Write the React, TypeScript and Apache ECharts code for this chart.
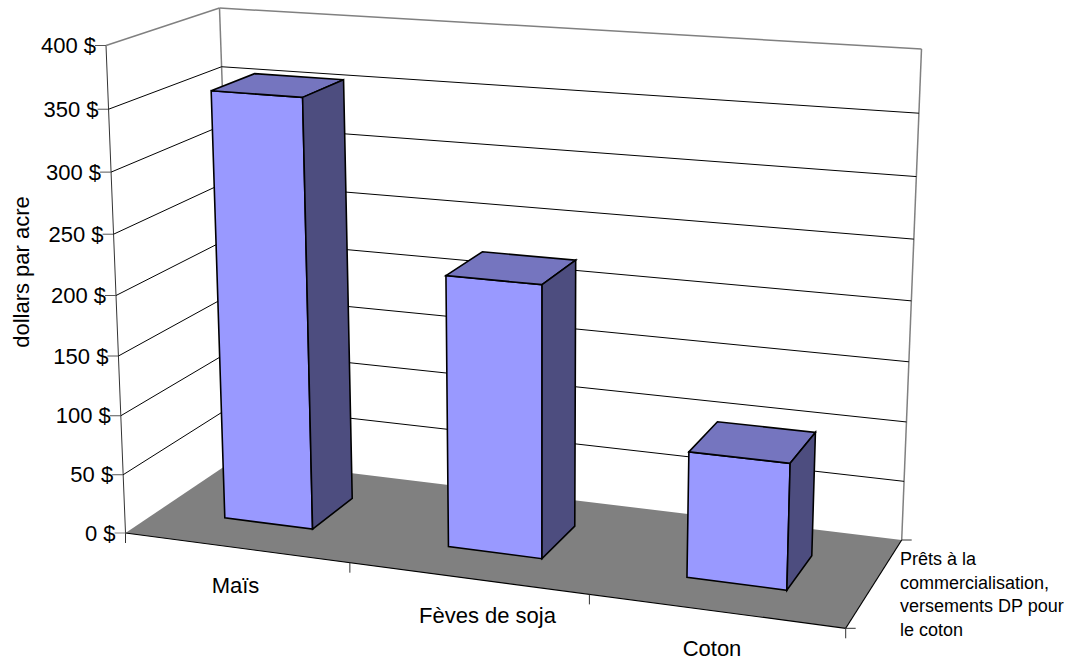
import React, { useEffect, useRef } from "react";
import * as echarts from "echarts";

const categories = ["Maïs", "Fèves de soja", "Coton"];
const returns = [358, 225, 103];
const valueTicks = [0, 50, 100, 150, 200, 250, 300, 350, 400];
const depthTitle = ["Prêts à la", "commercialisation,", "versements DP pour", "le coton"];
const axisTitle = "dollars par acre";

const FONT = '"Liberation Sans", Arial, sans-serif';

// Screen positions of the eight corners of the plot box, indexed [u][v][w]:
// u runs along the categories, v up the values, w into the depth.
const box = [
  [
    [[125.5, 533], [235.5, 459]],
    [[106, 45.5], [219.5, 8]],
  ],
  [
    [[845.7, 628.3], [901.7, 540]],
    [[862, 98], [921.5, 49]],
  ],
];
// Perspective terms of the homogeneous divisor.
const persp = { u: -0.095, v: -0.05, w: 0.085 };

function project(u: number, v: number, w: number): number[] {
  let x = 0;
  let y = 0;
  let d = 0;
  for (const iu of [0, 1]) {
    for (const iv of [0, 1]) {
      for (const iw of [0, 1]) {
        const c = (iu ? u : 1 - u) * (iv ? v : 1 - v) * (iw ? w : 1 - w);
        const h = c * (1 + persp.u * iu + persp.v * iv + persp.w * iw);
        const p = box[iu][iv][iw];
        x += h * p[0];
        y += h * p[1];
        d += h;
      }
    }
  }
  return [x / d, y / d];
}

const line = (a: number[], b: number[], stroke: string, lineWidth: number) => ({
  type: "line",
  shape: { x1: a[0], y1: a[1], x2: b[0], y2: b[1] },
  style: { stroke, lineWidth },
});

const face = (points: number[][], fill: string) => ({
  type: "polygon",
  shape: { points },
  style: { fill, stroke: "#000000", lineWidth: 1.6, lineJoin: "miter" },
});

// Walls, floor and the ticks of the two horizontal axes.
function renderFrame() {
  const n = categories.length;
  const children: any[] = [
    {
      type: "polygon",
      shape: { points: [project(0, 0, 1), project(1, 0, 1), project(1, 1, 1), project(0, 1, 1)] },
      style: { fill: "#ffffff" },
    },
    {
      type: "polygon",
      shape: { points: [project(0, 0, 0), project(0, 0, 1), project(1, 0, 1), project(1, 0, 0)] },
      style: { fill: "#808080" },
    },
    line(project(0, 0, 1), project(0, 1, 1), "#808080", 1.5),
    line(project(1, 0, 1), project(1, 1, 1), "#808080", 1.5),
    line(project(0, 0, 0), project(1, 0, 0), "#000000", 1.2),
    line(project(1, 0, 0), project(1, 0, 1), "#000000", 1.2),
    line(project(0, 0, 0), project(0, 1, 0), "#333333", 1),
  ];
  for (let k = 0; k <= n; k++) {
    const p = project(k / n, 0, 0);
    children.push(line(p, [p[0], p[1] + 10], "#333333", 1));
  }
  for (const w of [0, 1]) {
    const p = project(1, 0, w);
    children.push(line(p, [p[0] + 10, p[1]], "#333333", 1));
  }
  return { type: "group", children };
}

// One value level: tick, label and the gridline across both walls.
function renderLevel(params: any, api: any) {
  const cs = params.coordSys;
  const value = api.value(1);
  const v = (cs.y + cs.height - api.coord([0, value])[1]) / cs.height;
  const front = project(0, v, 0);
  const corner = project(0, v, 1);
  const right = project(1, v, 1);
  const isTop = value === valueTicks[valueTicks.length - 1];
  const children: any[] = [
    {
      type: "text",
      style: {
        x: front[0] - 10,
        y: front[1],
        text: `${value} $`,
        fill: "#000000",
        font: `22px ${FONT}`,
        align: "right",
        verticalAlign: "middle",
      },
    },
    line([front[0] - 11, front[1]], front, value === 0 ? "#808080" : "#555555", 1),
  ];
  if (value !== 0) {
    const stroke = isTop ? "#808080" : "#000000";
    const width = isTop ? 1.5 : 1;
    children.push(line(front, corner, stroke, width), line(corner, right, stroke, width));
  }
  return { type: "group", children };
}

// A bar as the three visible faces of a box; the band and value scales give
// its footprint and height. Bars fill 40% of a category cell in both directions.
function renderBar(params: any, api: any) {
  const cs = params.coordSys;
  const pos = api.coord([api.value(0), api.value(1)]);
  const band = api.size([1, 0])[0];
  const uc = (pos[0] - cs.x) / cs.width;
  const half = (0.2 * band) / cs.width;
  const top = (cs.y + cs.height - pos[1]) / cs.height;
  const [u0, u1] = [uc - half, uc + half];
  const [w0, w1] = [0.3, 0.7];
  return {
    type: "group",
    children: [
      face([project(u0, top, w0), project(u1, top, w0), project(u1, 0, w0), project(u0, 0, w0)], "#9999ff"),
      face([project(u0, top, w0), project(u0, top, w1), project(u1, top, w1), project(u1, top, w0)], "#7575bf"),
      face([project(u1, top, w0), project(u1, top, w1), project(u1, 0, w1), project(u1, 0, w0)], "#4d4d7f"),
    ],
  };
}

const label = (x: number, y: number, text: string, size: number, extra: any = {}) => ({
  type: "text",
  x,
  y,
  ...extra,
  style: { text, fill: "#000000", font: `${size}px ${FONT}`, align: "center", verticalAlign: "middle", ...(extra.style || {}) },
});

export default function App() {
  const ref = useRef<HTMLDivElement>(null);
  useEffect(() => {
    const chart = echarts.init(ref.current!, null, { renderer: "svg" });
    chart.setOption({
      animation: false,
      backgroundColor: "#ffffff",
      grid: { left: 100, right: 100, top: 60, bottom: 60 },
      xAxis: { type: "category", data: categories, show: false },
      yAxis: { type: "value", min: 0, max: 400, interval: 50, show: false },
      series: [
        {
          type: "custom",
          silent: true,
          clip: false,
          data: [[0, 0]],
          renderItem: renderFrame,
          z: 1,
        },
        {
          type: "custom",
          silent: true,
          clip: false,
          data: valueTicks.map((v) => [0, v]),
          encode: { x: 0, y: 1 },
          renderItem: renderLevel,
          z: 2,
        },
        {
          type: "custom",
          silent: true,
          clip: false,
          data: returns.map((v, i) => [i, v]),
          encode: { x: 0, y: 1 },
          renderItem: renderBar,
          z: 3,
        },
      ],
      graphic: [
        label(235.5, 585, categories[0], 22),
        label(487.5, 615, categories[1], 22),
        label(712, 648, categories[2], 22),
        label(21, 272, axisTitle, 22, { rotation: Math.PI / 2 }),
        ...depthTitle.map((t, i) =>
          label(900, 559 + i * 23.5, t, 18, { style: { align: "left" } })
        ),
      ],
    });
    return () => chart.dispose();
  }, []);
  return <div ref={ref} style={{ position: "absolute", left: 0, top: 0, width: 1086, height: 660 }} />;
}
